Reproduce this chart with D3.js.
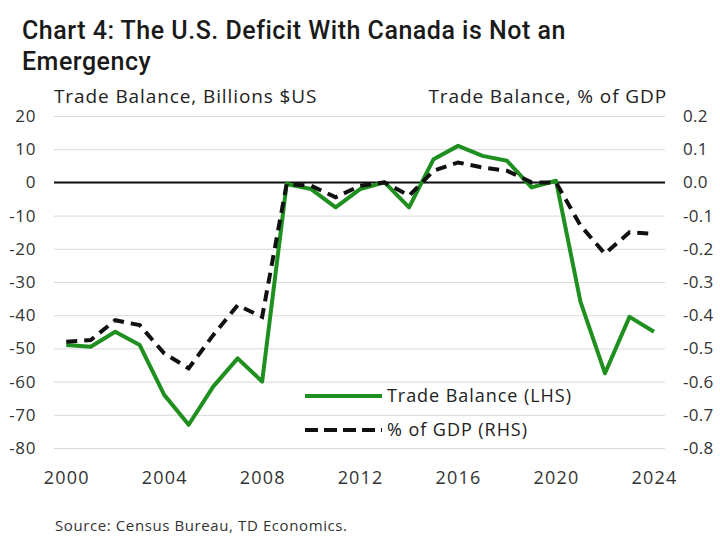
<!DOCTYPE html>
<html>
<head>
<meta charset="utf-8">
<script src="https://cdn.jsdelivr.net/npm/d3@7"></script>
<style>
  body { margin: 0; background: #fff; }
  svg { display: block; }
</style>
</head>
<body>
<div id="chart"></div>
<script>
// Data
const years = d3.range(2000, 2025);
const tradeBalance = [-49, -49.5, -45, -49, -64, -73, -61.5, -53, -60, -0.5,
  -2, -7.5, -2, 0, -7.5, 7, 11, 8, 6.5, -1.5, 0.5, -36, -57.5, -40.5, -45];
const pctGdp = [-0.48, -0.475, -0.415, -0.43, -0.515, -0.56, -0.46, -0.37, -0.405, -0.005,
  -0.01, -0.045, -0.01, 0, -0.04, 0.035, 0.06, 0.045, 0.035, 0, 0, -0.13, -0.215, -0.15, -0.155];
const leftTicks = [20, 10, 0, -10, -20, -30, -40, -50, -60, -70, -80];
const rightTicks = [0.2, 0.1, 0, -0.1, -0.2, -0.3, -0.4, -0.5, -0.6, -0.7, -0.8];
const xTicks = [2000, 2004, 2008, 2012, 2016, 2020, 2024];

const width = 720, height = 538;
const margin = { top: 116, right: 55, bottom: 90, left: 54 };
const plotW = width - margin.left - margin.right;
const plotH = height - margin.top - margin.bottom;
const font = "'Open Sans', sans-serif";
const green = "#1f8f1f";

// plain hyphen for negatives, like the original
const hy = f => d => f(d).replace("\u2212", "-");

const svg = d3.select("#chart").append("svg")
    .attr("width", width)
    .attr("height", height);

// Title
const title = svg.append("text")
    .style("font-family", "Roboto, sans-serif")
    .style("font-size", "25px")
    .style("font-weight", "500")
    .style("letter-spacing", "0.5px")
    .style("fill", "#1a1a1a");
title.append("tspan").attr("x", 22).attr("y", 39)
    .text("Chart 4: The U.S. Deficit With Canada is Not an");
title.append("tspan").attr("x", 22).attr("y", 70)
    .text("Emergency");

const g = svg.append("g")
    .attr("transform", `translate(${margin.left},${margin.top})`);

// Scales
const x = d3.scaleLinear().domain([1999.5, 2024.45]).range([0, plotW]);
const yL = d3.scaleLinear().domain([-80, 20]).range([plotH, 0]);
const yR = d3.scaleLinear().domain([-0.8, 0.2]).range([plotH, 0]);

// Grid lines
g.append("g")
    .call(d3.axisLeft(yL).tickValues(leftTicks).tickSize(-plotW).tickFormat(""))
    .call(s => s.select(".domain").remove())
    .selectAll("line")
    .style("stroke", "#d9d9d9")
    .style("stroke-width", 1);

// Zero line
g.append("line")
    .attr("x1", 0).attr("x2", plotW)
    .attr("y1", yL(0)).attr("y2", yL(0))
    .attr("stroke", "#111")
    .attr("stroke-width", 2);

function styleTicks(size, spacing) {
    return sel => sel.selectAll("text")
        .style("font-family", font)
        .style("font-size", size + "px")
        .style("letter-spacing", spacing + "px")
        .style("fill", "#333");
}

// Left axis labels
g.append("g")
    .call(d3.axisLeft(yL).tickValues(leftTicks).tickSize(0).tickPadding(18)
        .tickFormat(hy(d3.format("d"))))
    .call(s => s.select(".domain").remove())
    .call(styleTicks(17, 0.6));

// Right axis labels
g.append("g")
    .attr("transform", `translate(${plotW},0)`)
    .call(d3.axisRight(yR).tickValues(rightTicks).tickSize(0).tickPadding(18)
        .tickFormat(hy(d3.format(".1f"))))
    .call(s => s.select(".domain").remove())
    .call(styleTicks(17, 0.3));

// X axis labels
g.append("g")
    .attr("transform", `translate(0,${plotH})`)
    .call(d3.axisBottom(x).tickValues(xTicks).tickSize(0).tickPadding(23)
        .tickFormat(d3.format("d")))
    .call(s => s.select(".domain").remove())
    .call(styleTicks(18, 1.2));

// Axis titles
svg.append("text")
    .attr("x", 54).attr("y", 103)
    .style("font-family", font)
    .style("font-size", "19px")
    .style("letter-spacing", "0.9px")
    .style("fill", "#222")
    .text("Trade Balance, Billions $US");

svg.append("text")
    .attr("x", 667).attr("y", 103)
    .attr("text-anchor", "end")
    .style("font-family", font)
    .style("font-size", "19px")
    .style("letter-spacing", "0.9px")
    .style("fill", "#222")
    .text("Trade Balance, % of GDP");

// Lines
const lineL = d3.line()
    .x((d, i) => x(years[i]))
    .y(d => yL(d));
const lineR = d3.line()
    .x((d, i) => x(years[i]))
    .y(d => yR(d));

g.append("path")
    .datum(tradeBalance)
    .attr("fill", "none")
    .attr("stroke", green)
    .attr("stroke-width", 4)
    .attr("stroke-linejoin", "round")
    .attr("d", lineL);

g.append("path")
    .datum(pctGdp)
    .attr("fill", "none")
    .attr("stroke", "#111")
    .attr("stroke-width", 4)
    .attr("stroke-dasharray", "11,7")
    .attr("d", lineR);

// Legend
const legend = svg.append("g").attr("transform", "translate(305,396)");
legend.append("line")
    .attr("x1", 0).attr("x2", 77).attr("y1", 0).attr("y2", 0)
    .attr("stroke", green).attr("stroke-width", 4);
legend.append("text")
    .attr("x", 82).attr("y", 6)
    .style("font-family", font).style("font-size", "18px")
    .style("letter-spacing", "0.95px").style("fill", "#222")
    .text("Trade Balance (LHS)");
legend.append("line")
    .attr("x1", 0).attr("x2", 77).attr("y1", 34).attr("y2", 34)
    .attr("stroke", "#111").attr("stroke-width", 4)
    .attr("stroke-dasharray", "13,6");
legend.append("text")
    .attr("x", 82).attr("y", 40)
    .style("font-family", font).style("font-size", "18px")
    .style("letter-spacing", "0.95px").style("fill", "#222")
    .text("% of GDP (RHS)");

// Source
svg.append("text")
    .attr("x", 55).attr("y", 531)
    .style("font-family", font)
    .style("font-size", "15px")
    .style("letter-spacing", "0.6px")
    .style("fill", "#333")
    .text("Source: Census Bureau, TD Economics.");
</script>
</body>
</html>
